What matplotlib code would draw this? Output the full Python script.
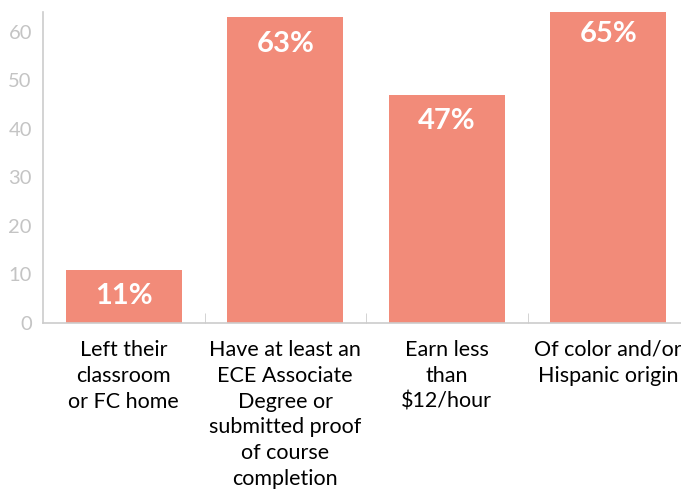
import matplotlib.pyplot as plt
import numpy as np

categories = ['Left their\nclassroom\nor FC home',
              'Have at least an\nECE Associate\nDegree or\nsubmitted proof\nof course\ncompletion',
              'Earn less\nthan\n$12/hour',
              'Of color and/or\nHispanic origin']
values = [11, 63, 47, 65]
bar_labels = ['11%', '63%', '47%', '65%']

plt.rcParams['font.family'] = ['Lato', 'DejaVu Sans']

fig = plt.figure(figsize=(6.81, 4.91), dpi=100)
ax = fig.add_axes([43 / 681, 1 - 323 / 491, 646 / 681, 311 / 491])

x = np.arange(len(categories))
bars = ax.bar(x, values, width=0.72, color='#F28B79')

for b, lab in zip(bars, bar_labels):
    ax.annotate(lab, (b.get_x() + b.get_width() / 2, b.get_height()),
                xytext=(0, -9.5), textcoords='offset points',
                ha='center', va='top', color='white',
                fontsize=21, fontweight='bold', annotation_clip=False)

ax.set_xlim(-0.5, 3.5)
ax.set_ylim(0, 64.1)
ax.set_yticks(range(0, 61, 10))

ax.set_xticks(x)
ax.set_xticklabels(categories, fontsize=15.5, linespacing=1.37)
ax.set_xticks(np.arange(0.5, 4, 1), minor=True)
ax.tick_params(axis='x', which='major', length=0, pad=12, colors='black')
ax.tick_params(axis='x', which='minor', direction='in', length=7.5, color='#cccccc')
ax.tick_params(axis='y', length=0, pad=8, labelsize=14.5, labelcolor='#c4c4c4')

for s in ['top', 'right']:
    ax.spines[s].set_visible(False)
for s in ['left', 'bottom']:
    ax.spines[s].set_color('#cccccc')
    ax.spines[s].set_linewidth(1.2)

fig.savefig('out.png', dpi=100)
